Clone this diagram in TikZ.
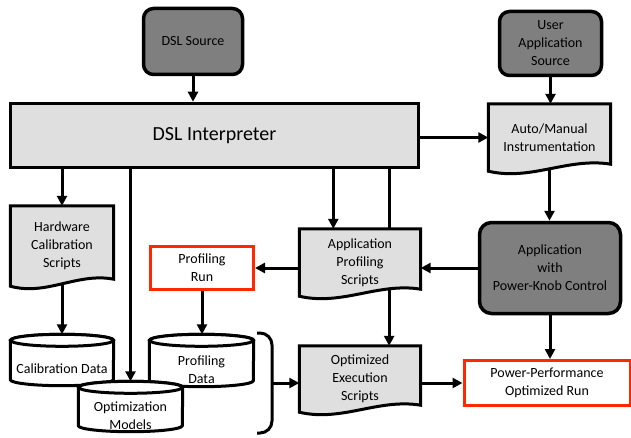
\documentclass[tikz,border=0pt]{standalone}
\usepackage{fontspec}
\setmainfont{Carlito}
\usetikzlibrary{arrows.meta,calc}
\pgfdeclarelayer{background}
\pgfsetlayers{background,main}
\definecolor{darkfill}{RGB}{127,127,127}
\definecolor{lightfill}{RGB}{223,223,223}
\definecolor{runred}{RGB}{255,40,0}

% document (wavy bottom) outline around a named node
\newcommand{\docshape}[1]{%
  \filldraw[docdraw] (#1.south west) -- (#1.north west) -- (#1.north east) -- ($(#1.south east)+(0,7)$)
    .. controls ($(#1.south west)!0.65!(#1.south east)+(0,14)$) and ($(#1.south west)!0.35!(#1.south east)+(0,-10)$) .. (#1.south west) -- cycle;}
% cylinder outline around a named node, #2 = half width
\newcommand{\cylshape}[2]{%
  \filldraw[cyldraw] ($(#1.north west)+(0,-6)$) -- ($(#1.south west)+(0,6)$)
    arc[start angle=180, end angle=360, x radius=#2, y radius=6]
    -- ($(#1.north east)+(0,-6)$)
    arc[start angle=0, end angle=180, x radius=#2, y radius=6] -- cycle;
  \draw[cyldraw] ($(#1.north)+(0,-6)$) ellipse[x radius=#2, y radius=6];}

\begin{document}
\begin{tikzpicture}[x=1pt,y=1pt,
  every node/.style={font=\fontsize{14}{18}\selectfont, align=center, inner sep=0pt},
  srcbox/.style={draw, line width=3.5pt, rounded corners=10pt, fill=darkfill},
  interpbox/.style={draw, line width=3.5pt, fill=lightfill, font=\fontsize{20}{24}\selectfont},
  docbox/.style={},
  docdraw/.style={draw, line width=3pt, fill=lightfill},
  runbox/.style={draw=runred, line width=3pt, fill=white},
  cylbox/.style={},
  cyldraw/.style={draw, line width=3pt, fill=white},
  cyllabel/.style={align=center, yshift=-9pt},
  conn/.style={line width=3pt, -{Triangle[length=10pt,width=10pt]}},
  plain/.style={line width=3pt},
]
\useasboundingbox (0,0) rectangle (631,437);

\node[srcbox, minimum width=99pt, minimum height=66pt] (dsl) at (193,395.5) {DSL Source};
\node[srcbox, minimum width=102pt, minimum height=64pt] (uas) at (550.5,393.5) {User\\Application\\Source};
\node[interpbox, minimum width=408pt, minimum height=64pt] (interp) at (214.5,301.5) {DSL Interpreter};
\node[docbox, minimum width=122pt, minimum height=67pt] (ams) at (549.5,299.5) {Auto/Manual\\Instrumentation};
\node[docbox, minimum width=103pt, minimum height=80pt] (hcs) at (62,191) {Hardware\\Calibration\\Scripts};
\node[docbox, minimum width=121pt, minimum height=67pt] (aps) at (360,174.5) {Application\\Profiling\\Scripts};
\node[srcbox, rounded corners=12pt, minimum width=141pt, minimum height=91pt] (apkc) at (550,169) {Application\\with\\Power-Knob Control};
\node[runbox, minimum width=103pt, minimum height=43pt] (pr) at (202,169) {Profiling\\Run};
\node[cylbox, minimum width=103pt, minimum height=51pt, label={[cyllabel]center:Calibration Data}] (cd) at (62,77) {};
\node[cylbox, minimum width=104pt, minimum height=52pt, label={[cyllabel]center:{Profiling\\Data}}] (pd) at (201.5,76.5) {};
\node[cylbox, minimum width=104pt, minimum height=50pt, label={[cyllabel]center:{Optimization\\Models}}] (om) at (130.5,30.5) {};
\node[docbox, minimum width=121pt, minimum height=66pt] (oes) at (360,58) {Optimized\\Execution\\Scripts};
\node[runbox, minimum width=166pt, minimum height=45pt] (ppor) at (547,54) {Power-Performance\\Optimized Run};

\begin{pgfonlayer}{background}
  \docshape{ams}
  \docshape{hcs}
  \docshape{aps}
  \docshape{oes}
  \cylshape{cd}{51.5}
  \cylshape{pd}{52}
  \cylshape{om}{52}
\end{pgfonlayer}

% bracket gathering the data stores
\draw[plain, rounded corners=12pt] (257,104) -- (272,104) -- (272,4) -- (257,4);
\coordinate (br) at (272,54);

\coordinate (apsA) at ($(aps.north west)!0.28!(aps.north east)$);
\coordinate (apsB) at ($(aps.north west)!0.74!(aps.north east)$);

\draw[conn] (dsl.south) -- (dsl.south |- interp.north);
\draw[conn] (uas.south) -- (uas.south |- ams.north);
\draw[conn] (interp.east |- ams.west) -- (ams.west);
\draw[conn] (interp.south -| hcs.north) -- (hcs.north);
\draw[conn] (interp.south -| om.north) -- (om.north);
\draw[conn] (interp.south -| apsA) -- (apsA);
\draw[plain] (interp.south -| apsB) -- (apsB);
\draw[conn] ($(aps.south west)!0.74!(aps.south east)+(0,7)$) -- (apsB |- oes.north);
\draw[conn] ($(ams.south)+(0,2.4)$) -- (ams.south |- apkc.north);
\draw[conn] (apkc.west) -- (apkc.west -| aps.east);
\draw[conn] (aps.west |- pr.east) -- (pr.east);
\draw[conn] (pr.south) -- (pr.south |- pd.north);
\draw[conn] ($(hcs.south)+(0,2.4)$) -- (hcs.south |- cd.north);
\draw[conn] (br) -- (br -| oes.west);
\draw[conn] (oes.east |- ppor.west) -- (ppor.west);
\draw[conn] (apkc.south) -- (apkc.south |- ppor.north);
\end{tikzpicture}
\end{document}
